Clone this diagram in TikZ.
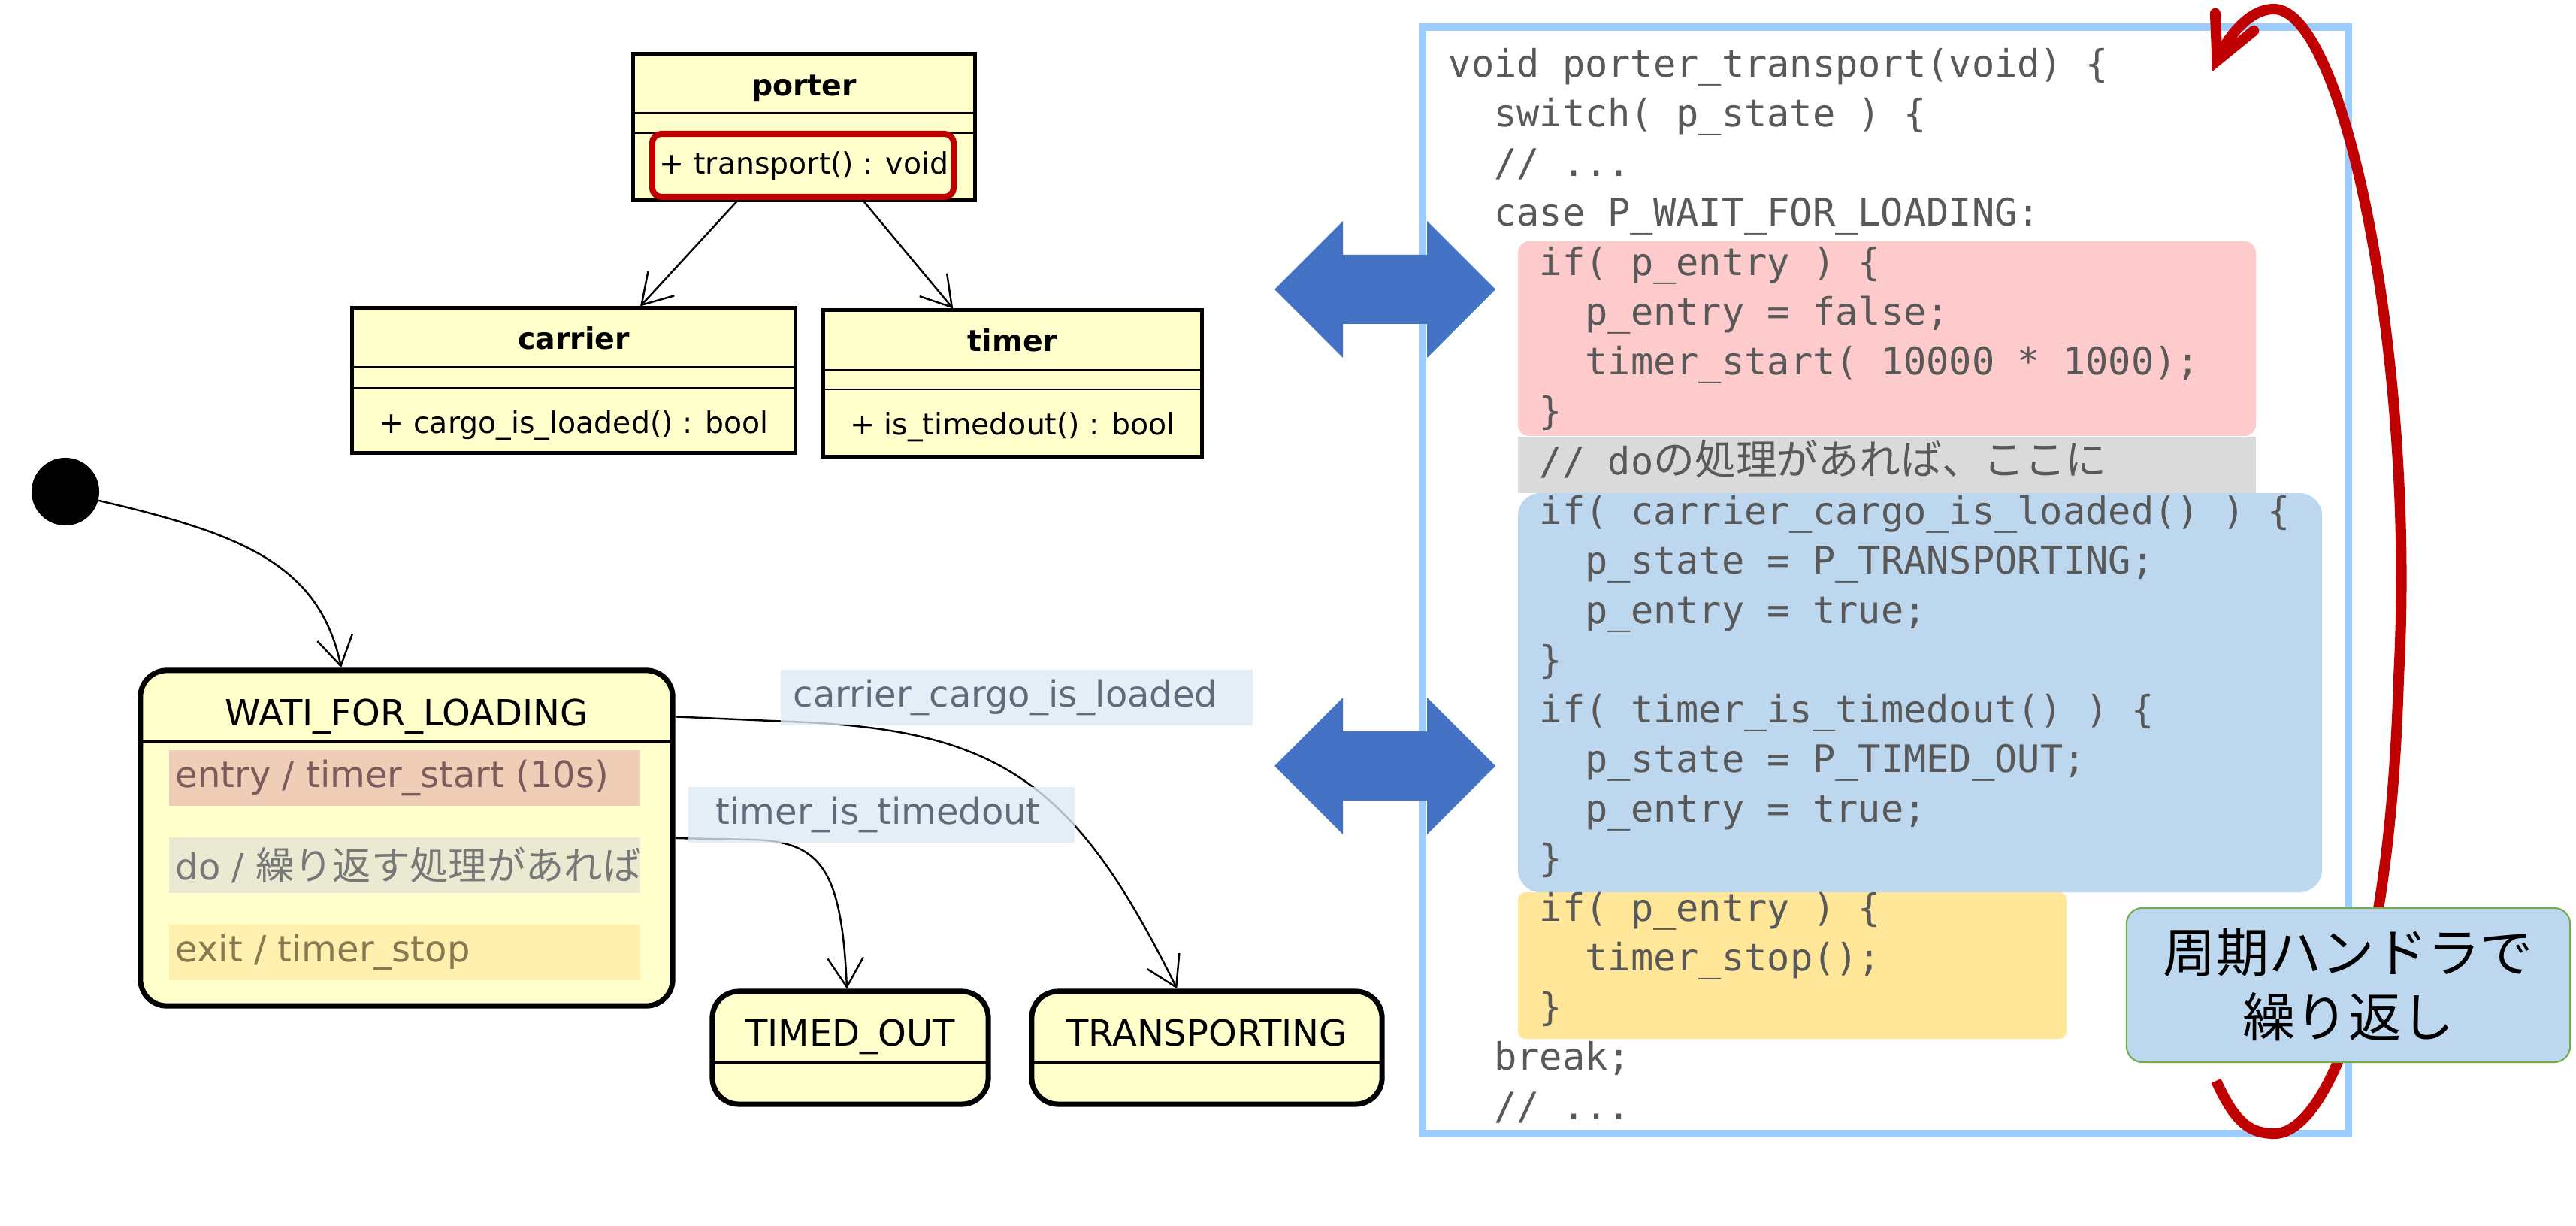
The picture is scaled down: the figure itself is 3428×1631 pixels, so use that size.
\documentclass[tikz,border=0pt]{standalone}
\usepackage{fontspec}
\setmainfont{DejaVu Sans}
\newfontfamily\cjk{Noto Sans CJK JP}
\newfontfamily\codefont{DejaVu Sans Mono}
\usetikzlibrary{arrows.meta,calc}
\definecolor{classfill}{HTML}{FFFFCC}
\definecolor{hlred}{HTML}{C00000}
\definecolor{entryfill}{HTML}{F0CDB6}
\definecolor{entrytxt}{HTML}{7B5B5B}
\definecolor{dofill}{HTML}{EAEAD2}
\definecolor{dotxt}{HTML}{787878}
\definecolor{exitfill}{HTML}{FFF0B0}
\definecolor{exittxt}{HTML}{877850}
\definecolor{lblfill}{HTML}{DDEAF6}
\definecolor{lbltxt}{HTML}{5F6B7A}
\definecolor{framecol}{HTML}{9CCBFF}
\definecolor{codegrey}{HTML}{595959}
\definecolor{pinkblk}{HTML}{FDCBCB}
\definecolor{greyblk}{HTML}{DADADA}
\definecolor{blueblk}{HTML}{BDD7EE}
\definecolor{yellowblk}{HTML}{FFE699}
\definecolor{bigarrow}{HTML}{4472C4}
\definecolor{notegreen}{HTML}{70AD47}
\newcommand\umlsz{\fontsize{11.2}{13.4}\selectfont}
\newcommand\stsz{\fontsize{13.65}{16}\selectfont}
\newcommand\codesz{\fontsize{14.3}{17}\selectfont}
\newcommand\notesz{\fontsize{20}{24.5}\selectfont}
\newcommand\actline[1]{\makebox[6.09cm][l]{#1}}
\tikzset{
  classbox/.style={draw=black, line width=1.4pt, fill=classfill, inner sep=0, rectangle},
  divider/.style={line width=0.7pt},
  umltitle/.style={inner sep=0, anchor=base, font=\umlsz\bfseries},
  umltxt/.style={inner sep=0, anchor=base, font=\umlsz},
  statebox/.style={draw=black, line width=2pt, fill=classfill, rounded corners=10pt, inner sep=0, rectangle},
  sttxt/.style={inner sep=0, anchor=base, font=\stsz},
  actbox/.style={anchor=north west, minimum height=0.74cm, inner xsep=0.09cm, inner ysep=0, font=\stsz},
  tarrow/.style={-{Straight Barb[length=11pt,width=13.5pt]}, line width=0.7pt},
  lbl/.style={anchor=north west, fill=lblfill, fill opacity=0.8, text opacity=1, text=lbltxt, minimum height=0.74cm, inner ysep=0, align=left, font=\stsz},
  codeline/.style={anchor=base west, inner sep=0, font=\codefont\codesz, text=codegrey},
  dblarrow/.style={fill=bigarrow},
  redloop/.style={draw=hlred, line width=4pt, -{Straight Barb[length=16pt,width=16pt,line cap=round]}}
}
\begin{document}
\begin{tikzpicture}[x=0.01cm,y=-0.01cm]
\useasboundingbox (0,0) rectangle (3428,1631);
\fill[white] (0,0) rectangle (3428,1631);

% ---------------- UML classes ----------------
\node[classbox, minimum width=4.54cm, minimum height=1.94cm] (porter) at (1070,169) {};
\draw[divider] (843,150) -- (1297,150);
\draw[divider] (843,177) -- (1297,177);
\node[umltitle] (portertitle) at (1070,128) {porter};
\node[draw=hlred, line width=2.3pt, rounded corners=3.5pt, minimum width=4.01cm, minimum height=0.84cm, inner sep=0] (hl) at (1068.5,220) {};
\node[umltxt] (portermeth) at (1070,232) {+ transport() : void};

\node[classbox, minimum width=5.89cm, minimum height=1.92cm] (carrier) at (763.5,506) {};
\draw[divider] (469,488) -- (1058,488);
\draw[divider] (469,516) -- (1058,516);
\node[umltitle] (carriertitle) at (763.5,465) {carrier};
\node[umltxt] (carriermeth) at (763.5,577) {+ cargo\_is\_loaded() : bool};

\node[classbox, minimum width=5.03cm, minimum height=1.94cm] (timer) at (1347.5,510) {};
\draw[divider] (1096,492) -- (1599,492);
\draw[divider] (1096,518) -- (1599,518);
\node[umltitle] (timertitle) at (1347.5,468) {timer};
\node[umltxt] (timermeth) at (1347.5,578) {+ is\_timedout() : bool};

\draw[tarrow] ($(porter.south west)!0.304!(porter.south east)$) -- ($(carrier.north west)!0.649!(carrier.north east)$);
\draw[tarrow] ($(porter.south west)!0.674!(porter.south east)$) -- ($(timer.north west)!0.344!(timer.north east)$);

% ---------------- State machine ----------------
\node[circle, fill=black, minimum size=0.9cm, inner sep=0] (init) at (87,654) {};

\node[statebox, minimum width=7.08cm, minimum height=4.46cm] (wait) at (541,1115) {};
\draw[line width=1.1pt] (187,987) -- (895,987);
\node[sttxt] (waittitle) at (541,965) {WATI\_FOR\_LOADING};
\node[actbox, fill=entryfill, text=entrytxt] (wentry) at (224,997) {\actline{entry / timer\_start (10s)}};
\node[actbox, fill=dofill, text=dotxt] (wdo) at (224,1113) {\actline{do / {\cjk\fontsize{14.6}{17}\selectfont 繰り返す処理があれば}}};
\node[actbox, fill=exitfill, text=exittxt] (wexit) at (224,1229) {\actline{exit / timer\_stop}};

\node[statebox, minimum width=3.67cm, minimum height=1.50cm] (timedout) at (1131.5,1394) {};
\draw[line width=1.1pt] (948,1413) -- (1315,1413);
\node[sttxt] (timedouttitle) at (1131.5,1391) {TIMED\_OUT};

\node[statebox, minimum width=4.66cm, minimum height=1.50cm] (transporting) at (1606,1394) {};
\draw[line width=1.1pt] (1373,1413) -- (1839,1413);
\node[sttxt] (transportingtitle) at (1606,1391) {TRANSPORTING};

\draw[tarrow] (init.-15) .. controls (320,710) and (425,750) .. ($(wait.north west)!0.3785!(wait.north east)$);
\draw[tarrow] ($(wait.north east)!0.1435!(wait.south east)$) -- (1050,960) .. controls (1330,970) and (1430,1040) .. ($(transporting.north west)!0.416!(transporting.north east)$);
\draw[tarrow] (wait.east) -- (1000,1117) .. controls (1095,1119) and (1120,1160) .. ($(timedout.north west)!0.488!(timedout.north east)$);

\node[lbl, minimum width=6.28cm, inner xsep=0.17cm, text width=5.94cm] (lblcarrier) at (1038,890) {carrier\_cargo\_is\_loaded};
\node[lbl, minimum width=5.14cm, inner xsep=0.37cm, text width=4.40cm] (lbltimer) at (915,1046) {timer\_is\_timedout};

% ---------------- Code panel ----------------
\fill[pinkblk, rounded corners=4.3pt] (2020,321) rectangle (3002,580);
\fill[greyblk] (2020,581) rectangle (3002,656);
\fill[blueblk, rounded corners=8.5pt] (2020,656) rectangle (3090,1187);
\fill[yellowblk, rounded corners=2.8pt] (2020,1187) rectangle (2750,1382);

\node[draw=framecol, line width=2.85pt, minimum width=12.32cm, minimum height=14.72cm, inner sep=0] (codeframe) at (2509,772) {};

\node[codeline] (c1) at (1927,103) {void porter\_transport(void) \{};
\node[codeline] (c2) at (1987.6,169) {switch( p\_state ) \{};
\node[codeline] (c3) at (1987.6,235) {// ...};
\node[codeline] (c4) at (1987.6,301) {case P\_WAIT\_FOR\_LOADING:};
\node[codeline] (c5) at (2048.2,367) {if( p\_entry ) \{};
\node[codeline] (c6) at (2108.8,433) {p\_entry = false;};
\node[codeline] (c7) at (2108.8,499) {timer\_start( 10000 * 1000);};
\node[codeline] (c8) at (2048.2,565) {\}};
\node[codeline] (c9) at (2048.2,631) {// do{\cjk\fontsize{15.6}{18}\selectfont の処理があれば、ここに}};
\node[codeline] (c10) at (2048.2,697) {if( carrier\_cargo\_is\_loaded() ) \{};
\node[codeline] (c11) at (2108.8,763) {p\_state = P\_TRANSPORTING;};
\node[codeline] (c12) at (2108.8,829) {p\_entry = true;};
\node[codeline] (c13) at (2048.2,895) {\}};
\node[codeline] (c14) at (2048.2,961) {if( timer\_is\_timedout() ) \{};
\node[codeline] (c15) at (2108.8,1027) {p\_state = P\_TIMED\_OUT;};
\node[codeline] (c16) at (2108.8,1093) {p\_entry = true;};
\node[codeline] (c17) at (2048.2,1159) {\}};
\node[codeline] (c18) at (2048.2,1225) {if( p\_entry ) \{};
\node[codeline] (c19) at (2108.8,1291) {timer\_stop();};
\node[codeline] (c20) at (2048.2,1357) {\}};
\node[codeline] (c21) at (1987.6,1423) {break;};
\node[codeline] (c22) at (1987.6,1489) {// ...};

% ---------------- Blue double arrows ----------------
\fill[dblarrow] (1696,385) -- (1787,294) -- (1787,339) -- (1899,339) -- (1899,294) -- (1990,385) -- (1899,476) -- (1899,431) -- (1787,431) -- (1787,476) -- cycle;
\fill[dblarrow] (1696,1019) -- (1787,928) -- (1787,973) -- (1899,973) -- (1899,928) -- (1990,1019) -- (1899,1110) -- (1899,1065) -- (1787,1065) -- (1787,1110) -- cycle;

% ---------------- Red loop ----------------
\coordinate (loopstart) at (2949,1438);
\coordinate (looptip) at (2944,95);
\draw[redloop] (loopstart) .. controls (2975,1495) and (2995,1508) .. (3027,1508) .. controls (3090,1508) and (3180,1330) .. (3192,900) .. controls (3215,480) and (3120,12) .. (3026,12) .. controls (2990,12) and (2962,55) .. (looptip);

% ---------------- Note ----------------
\node[fill=blueblk, draw=notegreen, line width=0.6pt, rounded corners=6pt, minimum width=5.90cm, minimum height=2.05cm, align=center, font=\cjk\notesz, inner sep=0] (note) at (3125,1310.5) {周期ハンドラで\\繰り返し};
\end{tikzpicture}
\end{document}
